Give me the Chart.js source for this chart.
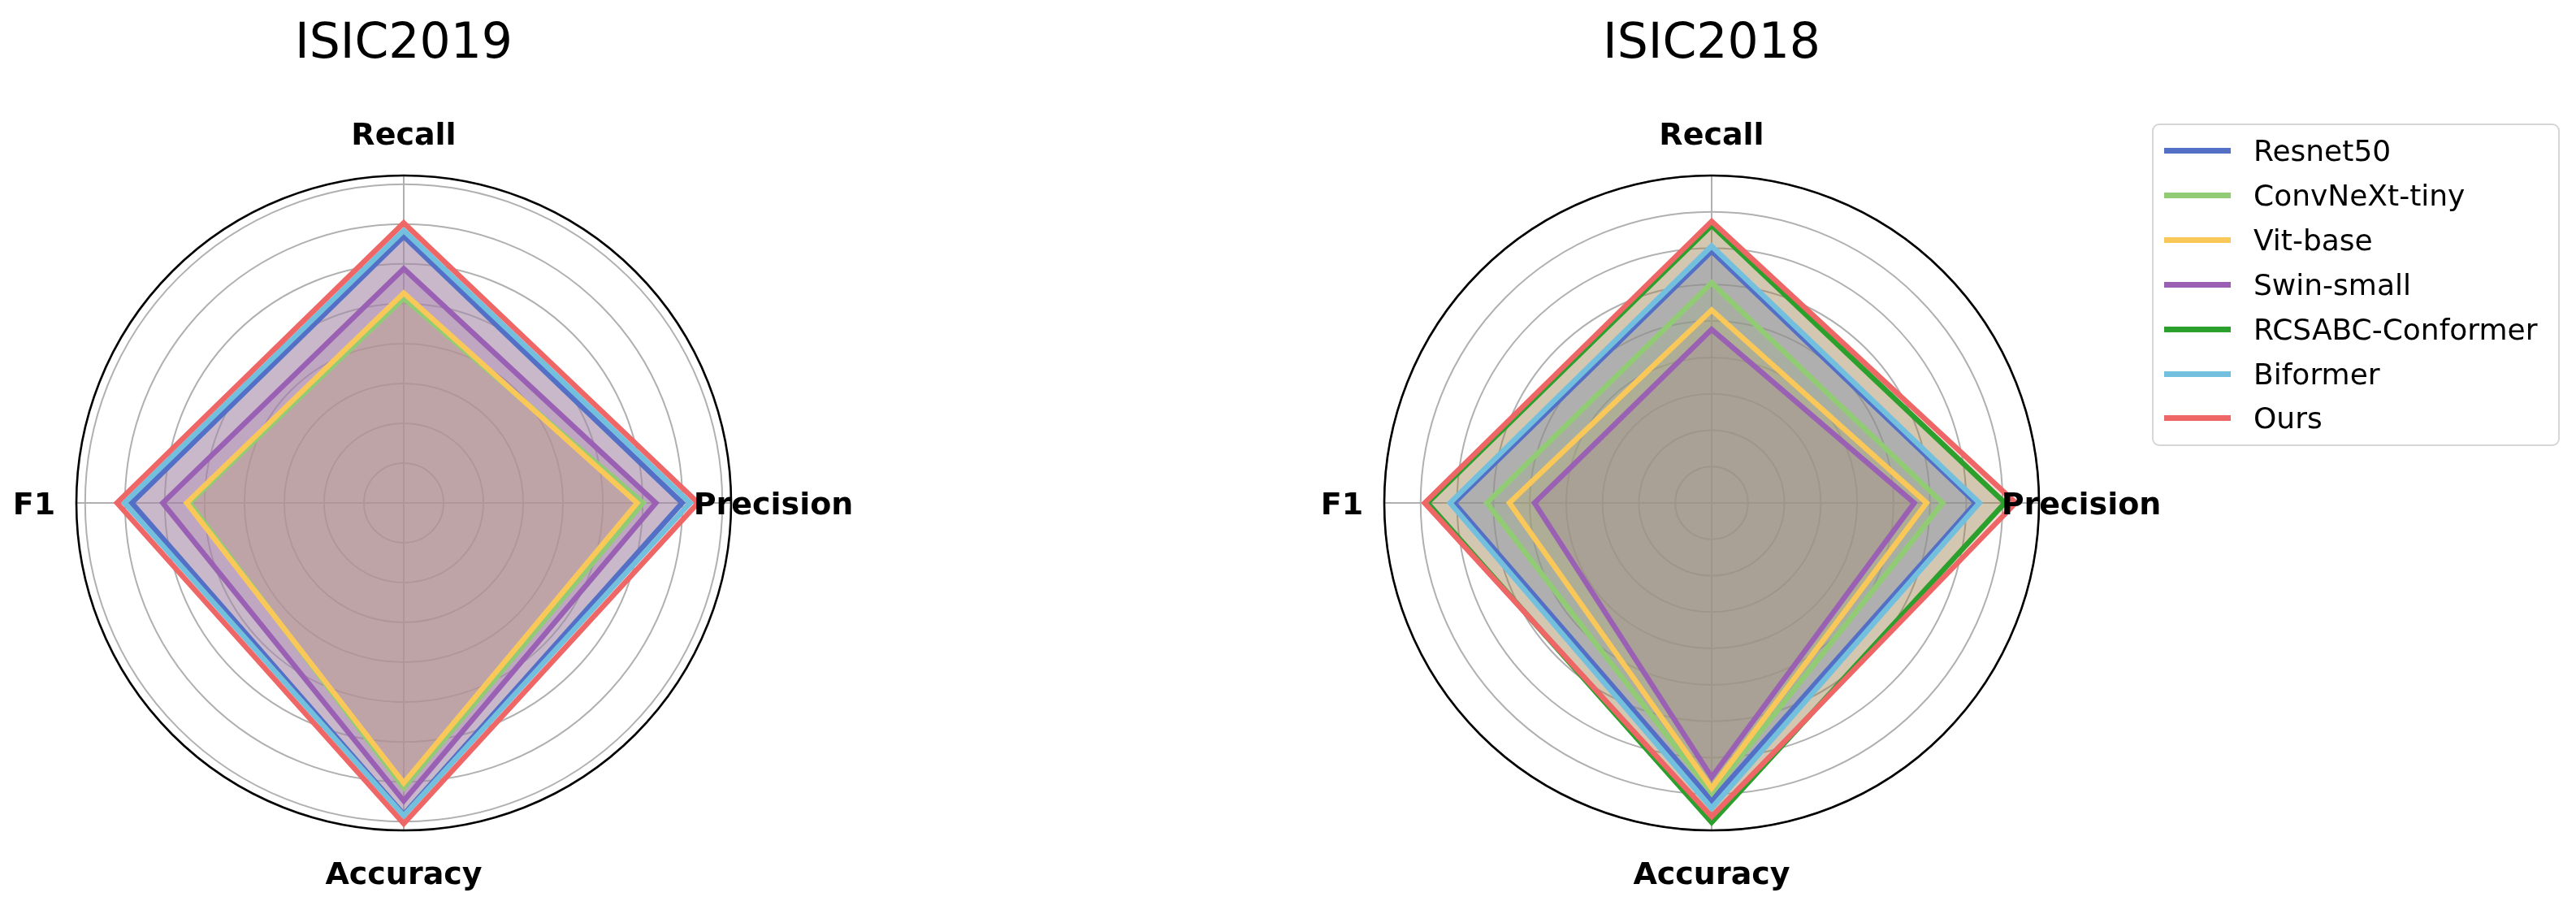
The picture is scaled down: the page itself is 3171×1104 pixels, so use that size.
<!DOCTYPE html>
<html>
<head>
<meta charset="utf-8">
<script src="https://cdn.jsdelivr.net/npm/chart.js@4.4.1/dist/chart.umd.min.js"></script>
<style>
  body { margin: 0; width: 3171px; height: 1104px; background: #fff; overflow: hidden; position: relative; font-family: "DejaVu Sans", sans-serif; }
  canvas { position: absolute; top: 0; }
  #c2019 { left: 0; }
  #c2018 { left: 1610px; }
  #legend { position: absolute; left: 2649px; top: 152px; width: 502px; height: 397px; box-sizing: border-box;
            border: 2.5px solid #d6d6d6; border-radius: 9px; background: #fff; }
  .row { position: absolute; left: 0; height: 40px; display: flex; align-items: center; font-size: 36px; color: #000; white-space: nowrap; }
  .row span.line { display: inline-block; width: 82px; height: 7px; margin-left: 13px; margin-right: 28px; }
</style>
</head>
<body>
<canvas id="c2019" width="1300" height="1104"></canvas>
<canvas id="c2018" width="1100" height="1104"></canvas>
<div id="legend"></div>
<script>
// axes, clockwise from the top
const metrics = ["Recall", "Precision", "Accuracy", "F1"];
const models = ["Resnet50", "ConvNeXt-tiny", "Vit-base", "Swin-small", "RCSABC-Conformer", "Biformer", "Ours"];
const colors = ["#5470c6", "#91cc75", "#fac858", "#9a60b4", "#2ca02c", "#73c0de", "#ee6666"];

// ISIC2019 (RCSABC-Conformer not reported)
const isic2019Resnet50 = [0.669, 0.699, 0.782, 0.683];
const isic2019ConvNeXt = [0.514, 0.601, 0.715, 0.538];
const isic2019Vit = [0.527, 0.586, 0.703, 0.545];
const isic2019Swin = [0.588, 0.633, 0.748, 0.605];
const isic2019Rcsabc = null;
const isic2019Biformer = [0.684, 0.719, 0.785, 0.701];
const isic2019Ours = [0.703, 0.739, 0.805, 0.720];

// ISIC2018
const isic2018Resnet50 = [0.692, 0.726, 0.818, 0.708];
const isic2018ConvNeXt = [0.605, 0.635, 0.798, 0.618];
const isic2018Vit = [0.530, 0.591, 0.784, 0.556];
const isic2018Swin = [0.477, 0.557, 0.754, 0.487];
const isic2018Rcsabc = [0.763, 0.806, 0.878, 0.781];
const isic2018Biformer = [0.706, 0.736, 0.839, 0.719];
const isic2018Ours = [0.774, 0.836, 0.862, 0.789];

const series2019 = [isic2019Resnet50, isic2019ConvNeXt, isic2019Vit, isic2019Swin, isic2019Rcsabc, isic2019Biformer, isic2019Ours];
const series2018 = [isic2018Resnet50, isic2018ConvNeXt, isic2018Vit, isic2018Swin, isic2018Rcsabc, isic2018Biformer, isic2018Ours];

const GRID = "#b0b0b0";
const LABEL_DIST = 455;

function withAlpha(hex, a) {
    const n = parseInt(hex.slice(1), 16);
    return `rgba(${n >> 16}, ${(n >> 8) & 255}, ${n & 255}, ${a})`;
}

// title, outer black circle and centred metric labels (matplotlib style)
const polarDecor = {
    id: "polarDecor",
    beforeDatasetsDraw(chart) {
        const r = chart.scales.r;
        const ctx = chart.ctx;
        ctx.save();
        ctx.beginPath();
        ctx.arc(r.xCenter, r.yCenter, r.drawingArea, 0, Math.PI * 2);
        ctx.strokeStyle = "#000";
        ctx.lineWidth = 2.6;
        ctx.stroke();
        ctx.restore();
    },
    afterDraw(chart, args, opts) {
        const r = chart.scales.r;
        const ctx = chart.ctx;
        ctx.save();
        ctx.fillStyle = "#000";
        ctx.textAlign = "center";
        ctx.textBaseline = "alphabetic";
        ctx.font = "60px 'DejaVu Sans'";
        ctx.fillText(opts.title, r.xCenter, 71);
        const size = 38;
        ctx.font = `bold ${size}px 'DejaVu Sans'`;
        metrics.forEach((m, i) => {
            const p = r.getPointPosition(i, LABEL_DIST);
            ctx.fillText(m, p.x, p.y + size * 0.729 / 2);
        });
        ctx.restore();
    },
};

function makeRadar(id, series, max, title, padRight) {
    const datasets = [];
    series.forEach((vals, i) => {
        if (!vals) return;
        datasets.push({
            label: models[i],
            data: vals,
            borderColor: colors[i],
            backgroundColor: withAlpha(colors[i], 0.25),
            borderWidth: 6.5,
            borderJoinStyle: "miter",
            pointRadius: 0,
            fill: true,
            order: series.length - i,
        });
    });
    return new Chart(document.getElementById(id), {
        type: "radar",
        data: { labels: metrics, datasets },
        options: {
            responsive: false,
            animation: false,
            layout: { padding: { left: 94, top: 216, right: padRight, bottom: 82 } },
            plugins: {
                legend: { display: false },
                tooltip: { enabled: false },
                filler: { drawTime: "beforeDatasetsDraw" },
                polarDecor: { title },
            },
            scales: {
                r: {
                    min: 0,
                    max,
                    ticks: { display: false, stepSize: 0.1, includeBounds: false },
                    grid: { color: GRID, lineWidth: 2, circular: true },
                    angleLines: { color: GRID, lineWidth: 2 },
                    pointLabels: { display: false },
                },
            },
        },
        plugins: [polarDecor],
    });
}

makeRadar("c2019", series2019, 0.822, "ISIC2019", 400);
makeRadar("c2018", series2018, 0.9, "ISIC2018", 200);

const legend = document.getElementById("legend");
models.forEach((name, i) => {
    const row = document.createElement("div");
    row.className = "row";
    row.style.top = (34 - 20 - 2.5 + i * 54.9) + "px";
    row.innerHTML = `<span class="line" style="background:${colors[i]}"></span>${name}`;
    legend.appendChild(row);
});
</script>
</body>
</html>
